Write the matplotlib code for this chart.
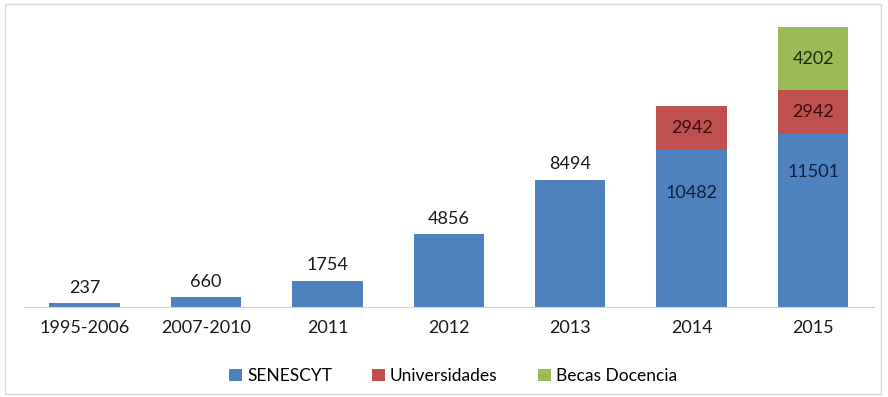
import matplotlib

matplotlib.use("Agg")
import matplotlib.pyplot as plt
from matplotlib.patches import Rectangle

categories = ["1995-2006", "2007-2010", "2011", "2012", "2013", "2014", "2015"]
senescyt = [237, 660, 1754, 4856, 8494, 10482, 11501]
universidades = [0, 0, 0, 0, 0, 2942, 2942]
becas = [0, 0, 0, 0, 0, 0, 4202]

BLUE = "#4F81BD"
RED = "#C0504D"
GREEN = "#9BBB59"

# where the inside labels of the stacked bars sit (fraction of the blue bar)
inside_frac = {5: 0.725, 6: 0.78}

plt.rcParams["font.family"] = ["Lato", "DejaVu Sans"]

fig = plt.figure(figsize=(8.88, 3.97), dpi=100)
fig.patches.append(Rectangle((0.006, 0.008), 0.986, 0.982, transform=fig.transFigure,
                             fill=False, edgecolor="#d9d9d9", linewidth=1))
ax = fig.add_axes([0.027, 0.2267, 0.957, 0.756])

x = list(range(len(categories)))
width = 0.58
bottom2 = senescyt
bottom3 = [a + b for a, b in zip(senescyt, universidades)]

b1 = ax.bar(x, senescyt, width, color=BLUE, label="SENESCYT")
b2 = ax.bar(x, universidades, width, bottom=bottom2, color=RED, label="Universidades")
b3 = ax.bar(x, becas, width, bottom=bottom3, color=GREEN, label="Becas Docencia")

fs = 13
for i, v in enumerate(senescyt):
    if universidades[i] == 0:
        ax.text(i, v + 500, str(v), ha="center", va="bottom", fontsize=fs, color="#1a1a1a")
    else:
        ax.text(i, v * inside_frac[i], str(v), ha="center", va="center", fontsize=fs,
                color="#0d2240")
for i, v in enumerate(universidades):
    if v:
        ax.text(i, bottom2[i] + v / 2, str(v), ha="center", va="center", fontsize=fs,
                color="#3a0e0e")
for i, v in enumerate(becas):
    if v:
        ax.text(i, bottom3[i] + v / 2, str(v), ha="center", va="center", fontsize=fs,
                color="#1f2a0e")

ax.set_xlim(-0.5, len(categories) - 0.5)
ax.set_ylim(0, 20000)
ax.set_yticks([])
ax.set_xticks(x)
ax.set_xticklabels(categories, fontsize=fs, color="#1a1a1a")
ax.tick_params(axis="x", length=0, pad=9)
for side in ["top", "right", "left"]:
    ax.spines[side].set_visible(False)
ax.spines["bottom"].set_color("#d0d0d0")

fig.legend(handles=[b1, b2, b3], loc="center", bbox_to_anchor=(0.51, 0.053), ncol=3,
           frameon=False, fontsize=12.5, handlelength=0.75, handleheight=0.75,
           handletextpad=0.3, columnspacing=2.3)

fig.savefig("out.png", dpi=100)
